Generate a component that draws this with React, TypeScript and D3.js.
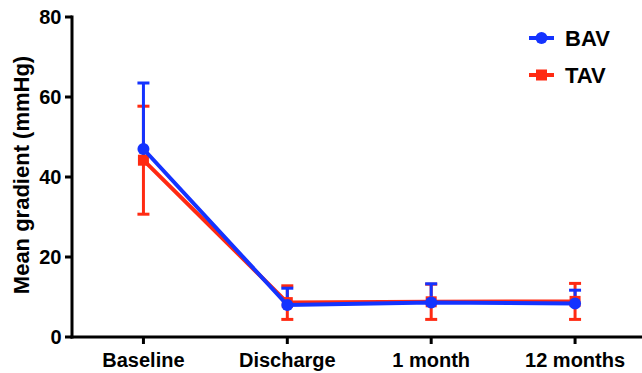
import * as d3 from 'd3'

const timepoints = ['Baseline', 'Discharge', '1 month', '12 months']
const bavMean = [47, 8.0, 8.6, 8.4]
const bavSd = [16.5, 4.2, 4.7, 3.3]
const tavMean = [44.2, 8.6, 8.8, 8.9]
const tavSd = [13.5, 4.2, 4.4, 4.5]
const yTicks = [0, 20, 40, 60, 80]

const BLUE = '#1433ff'
const RED = '#ff2a12'
const FONT = 'Liberation Sans, Arial, sans-serif'

export default function App() {
  const width = 642
  const height = 373
  const x = d3.scalePoint<string>().domain(timepoints).range([71.5, 647]).padding(0.5)
  const y = d3.scaleLinear().domain([0, 80]).range([337, 17])

  const line = d3
    .line<number>()
    .x((_, i) => x(timepoints[i]) as number)
    .y(d => y(d))

  const capW = 6

  return (
    <svg
      width={width}
      height={height}
      style={{ position: 'absolute', left: 0, top: 0, background: 'white' }}
      fontFamily={FONT}
    >
      {/* error bars: red both ways, blue upward only */}
      <g stroke={RED} strokeWidth={3}>
        {tavMean.map((m, i) => {
          const cx = x(timepoints[i]) as number
          const hi = y(m + tavSd[i])
          const lo = y(m - tavSd[i])
          return (
            <g key={i}>
              <line x1={cx} x2={cx} y1={hi} y2={lo} />
              <line x1={cx - capW} x2={cx + capW} y1={hi} y2={hi} />
              <line x1={cx - capW} x2={cx + capW} y1={lo} y2={lo} />
            </g>
          )
        })}
      </g>
      <g stroke={BLUE} strokeWidth={3}>
        {bavMean.map((m, i) => {
          const cx = x(timepoints[i]) as number
          const hi = y(m + bavSd[i])
          return (
            <g key={i}>
              <line x1={cx} x2={cx} y1={hi} y2={y(m)} />
              <line x1={cx - capW} x2={cx + capW} y1={hi} y2={hi} />
            </g>
          )
        })}
      </g>

      <path d={line(tavMean) ?? ''} fill="none" stroke={RED} strokeWidth={4} />
      {tavMean.map((m, i) => (
        <rect
          key={i}
          x={(x(timepoints[i]) as number) - 5.5}
          y={y(m) - 5.5}
          width={11}
          height={11}
          fill={RED}
        />
      ))}
      <path d={line(bavMean) ?? ''} fill="none" stroke={BLUE} strokeWidth={4} />
      {bavMean.map((m, i) => (
        <circle key={i} cx={x(timepoints[i]) as number} cy={y(m)} r={6} fill={BLUE} />
      ))}

      {/* y axis */}
      <g stroke="black" strokeWidth={3}>
        <line x1={72} x2={72} y1={15.5} y2={338.5} />
        {yTicks.map(t => (
          <line key={t} x1={65} x2={72} y1={y(t)} y2={y(t)} />
        ))}
      </g>
      {yTicks.map(t => (
        <text
          key={t}
          x={61.5}
          y={y(t)}
          dy="0.36em"
          textAnchor="end"
          fontSize={20}
          fontWeight="bold"
        >
          {t}
        </text>
      ))}
      <text
        transform={`translate(29, 175) rotate(-90)`}
        textAnchor="middle"
        fontSize={22}
        fontWeight="bold"
      >
        Mean gradient (mmHg)
      </text>

      {/* x axis */}
      <g stroke="black" strokeWidth={3}>
        <line x1={70.5} x2={642} y1={337} y2={337} />
        {timepoints.map(t => (
          <line key={t} x1={x(t) as number} x2={x(t) as number} y1={337} y2={344} />
        ))}
      </g>
      {timepoints.map(t => (
        <text
          key={t}
          x={x(t) as number}
          y={367}
          textAnchor="middle"
          fontSize={20}
          fontWeight="bold"
        >
          {t}
        </text>
      ))}

      {/* legend */}
      <g>
        <line x1={529} x2={554} y1={38} y2={38} stroke={BLUE} strokeWidth={4} />
        <circle cx={541.5} cy={38} r={6} fill={BLUE} />
        <text x={565} y={38} dy="0.36em" fontSize={22} fontWeight="bold">
          BAV
        </text>
        <line x1={529} x2={554} y1={75} y2={75} stroke={RED} strokeWidth={4} />
        <rect x={536} y={69.5} width={11} height={11} fill={RED} />
        <text x={565} y={75} dy="0.36em" fontSize={22} fontWeight="bold">
          TAV
        </text>
      </g>
    </svg>
  )
}
